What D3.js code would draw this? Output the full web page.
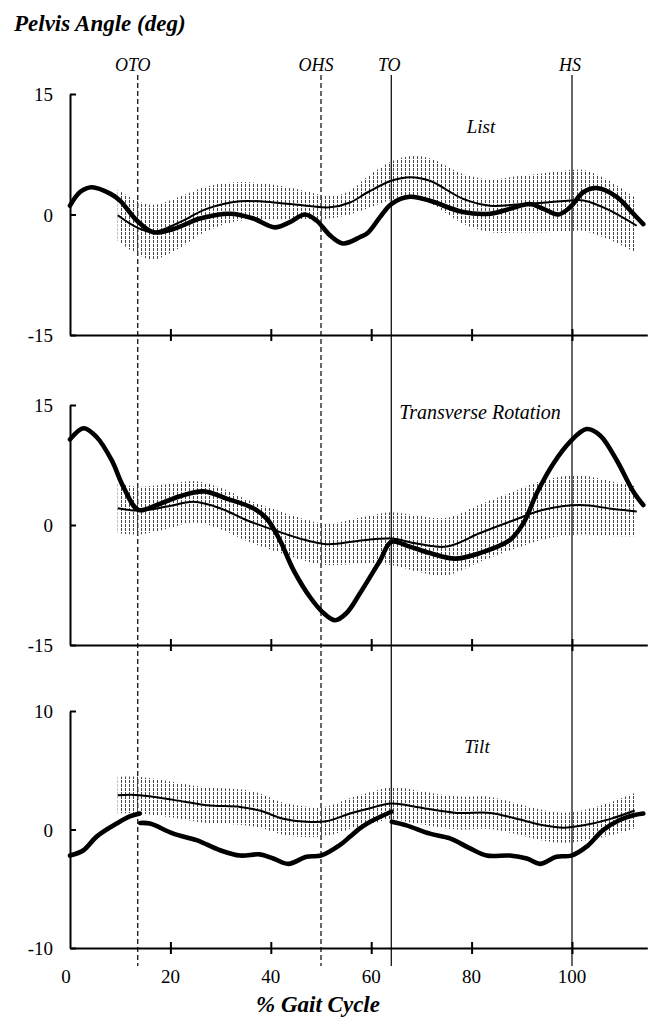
<!DOCTYPE html>
<html>
<head>
<meta charset="utf-8">
<script src="https://cdn.jsdelivr.net/npm/d3@7"></script>
<style>
body { margin: 0; background: #fff; }
text { font-family: "Liberation Serif", "Times New Roman", serif; fill: #000; }
</style>
</head>
<body>
<svg id="chart" width="649" height="1019"></svg>
<script>
// gait events (% gait cycle)
var eventNames = ["OTO", "OHS", "TO", "HS"];
var eventX = [13.5, 50, 64, 100];
var eventDashed = [true, true, false, false];

var xTicks = [0, 20, 40, 60, 80, 100];

// patient curves: [% gait cycle, deg]
var listPatient = [[0, 1.1], [2, 2.8], [4.3, 3.4], [8, 2.6], [10, 1.7], [13.3, -0.75], [16.6, -2.2], [20.6, -1.8],
    [25.9, -0.5], [31.9, 0.1], [36.5, -0.5], [40.8, -1.6], [43.8, -0.95], [46.8, 0], [49.1, -0.75], [51.8, -2.6],
    [54.4, -3.6], [57.8, -2.8], [59.3, -2.3], [61.8, -0.3], [64, 1.3], [67.7, 2.2], [71.7, 1.7], [78.3, 0.3],
    [83.7, 0.1], [87.6, 0.7], [91.6, 1.3], [94.3, 0.7], [97.3, 0], [99.6, 0.9], [102.3, 2.8], [104.9, 3.3],
    [108.9, 2.2], [112.2, 0.1], [114.2, -1.2]];

var rotationPatient = [[0, 10.7], [2.7, 12.1], [5.3, 11], [8.3, 8.1], [10.6, 4.8], [13.6, 1.9], [17.3, 2.5],
    [21.9, 3.6], [26.6, 4.2], [31.2, 3.3], [36.5, 2.1], [39.2, 0.8], [41.8, -1.9], [44.5, -5.6], [47.8, -9],
    [50.5, -11], [52.8, -11.9], [55.1, -11], [57.8, -8.5], [61.8, -4.4], [64, -2.1], [67.7, -2.7], [71.7, -3.5],
    [76.7, -4.2], [81.7, -3.5], [87.6, -1.9], [90.3, 0.2], [93, 4.0], [96.3, 7.7], [99.6, 10.4], [102.9, 12],
    [105.6, 11.2], [108.9, 8.1], [112.2, 4.2], [114.2, 2.5]];

var tiltPatient = [[0, -2.2], [2.7, -1.75], [5.3, -0.6], [9.3, 0.5], [11.9, 1.1], [13.9, 1.35], [13.95, null],
    [14, 0.55], [15.9, 0.5], [20.6, -0.35], [25.2, -0.9], [29.9, -1.75], [33.9, -2.2], [37.8, -2.1], [40.5, -2.45],
    [43.5, -2.9], [47.1, -2.3], [50, -2.2], [53.8, -1.3], [55.8, -0.6], [57.6, 0.05], [59.8, 0.65], [64, 1.5],
    [64.05, null], [64.1, 0.65], [67, 0.35], [71.7, -0.35], [75.7, -0.75], [79.7, -1.6], [83, -2.2], [87.6, -2.2],
    [91, -2.45], [93.6, -2.9], [96.9, -2.3], [99.9, -2.2], [102.9, -1.45], [106.2, -0.05], [109.5, 0.8],
    [112.2, 1.2], [114.2, 1.35]];

// normal data: [% gait cycle, mean, sd]
var listNormal = [[9.5, -0.1, 3.2], [13.3, -1.6, 3.3], [16.6, -2.2, 3.4], [21.9, -0.95, 3.2], [27.2, 0.7, 2.8],
    [33.9, 1.65, 2.4], [40.5, 1.5, 2.2], [47.1, 1.1, 1.8], [51.8, 0.9, 1.4], [55.8, 1.5, 1.5], [59.4, 2.8, 2.0],
    [64, 4.2, 2.4], [67.7, 4.65, 2.6], [71.7, 4.2, 2.8], [78.3, 1.95, 3.1], [83.7, 1.1, 3.3], [89, 1.25, 3.5],
    [95, 1.5, 3.7], [99.6, 1.75, 3.8], [102.3, 1.75, 3.8], [106.9, 0.7, 3.7], [112.9, -1.4, 3.4]];

var rotationNormal = [[9.5, 2.1, 3.1], [13.6, 1.8, 3.0], [19.3, 2.3, 2.8], [24.6, 2.9, 2.6], [29.9, 2.1, 2.6],
    [35.2, 0.6, 2.6], [40.5, -0.6, 2.6], [45.8, -1.7, 2.6], [51.1, -2.4, 2.6], [58.4, -1.9, 2.9], [64, -1.7, 3.3],
    [69, -2.3, 3.5], [75, -2.7, 3.6], [81.7, -1.0, 3.6], [87.6, 0.4, 3.6], [94.3, 1.9, 3.7], [101.6, 2.5, 3.7],
    [108.2, 2.0, 3.4], [112.9, 1.7, 3.1]];

var tiltNormal = [[9.5, 2.9, 1.55], [13.9, 2.9, 1.55], [20.6, 2.5, 1.5], [27.2, 2.05, 1.5], [33.9, 1.9, 1.5],
    [37.8, 1.6, 1.45], [42.5, 0.9, 1.35], [47.1, 0.65, 1.3], [51.1, 0.7, 1.25], [55.8, 1.35, 1.3],
    [59.4, 1.75, 1.35], [64, 2.2, 1.35], [69, 1.9, 1.4], [77, 1.4, 1.4], [83.7, 1.4, 1.35], [89, 0.9, 1.3],
    [94.3, 0.35, 1.3], [98.3, 0.15, 1.27], [102.3, 0.35, 1.3], [107.7, 0.9, 1.4], [112.5, 1.6, 1.5]];

var panels = [
    {name: "List", domain: [-15, 15], top: 94, bottom: 335, patient: listPatient, normal: listNormal,
        labelX: 481, labelY: 133, labelBg: false},
    {name: "Transverse Rotation", domain: [-15, 15], top: 405, bottom: 645, patient: rotationPatient,
        normal: rotationNormal, labelX: 480, labelY: 419, labelBg: true},
    {name: "Tilt", domain: [-10, 10], top: 711, bottom: 948, patient: tiltPatient, normal: tiltNormal,
        labelX: 477, labelY: 753, labelBg: false}
];

var svg = d3.select("#chart");
var x = d3.scaleLinear().domain([0, 115]).range([70, 647.3]);

// hatching used for the normal +/- 1 SD band
var pattern = svg.append("defs").append("pattern")
    .attr("id", "hatch")
    .attr("patternUnits", "userSpaceOnUse")
    .attr("width", 4)
    .attr("height", 4);
pattern.append("rect").attr("x", 1).attr("y", 0).attr("width", 1).attr("height", 3).attr("fill", "#454545");

svg.append("text")
    .attr("x", 14)
    .attr("y", 31)
    .style("font-size", "23px")
    .style("font-weight", "bold")
    .style("font-style", "italic")
    .text("Pelvis Angle (deg)");

// event lines run through all three panels
var ev = svg.append("g");
eventX.forEach(function (e, i) {
    ev.append("line")
        .attr("x1", x(e)).attr("x2", x(e))
        .attr("y1", 75).attr("y2", 966)
        .attr("stroke", "#000")
        .attr("stroke-width", 1.2)
        .attr("stroke-dasharray", eventDashed[i] ? "5,3" : null);
    ev.append("text")
        .attr("x", x(e) - (eventDashed[i] ? 5 : 2))
        .attr("y", 71)
        .attr("text-anchor", "middle")
        .style("font-size", "18px")
        .style("font-style", "italic")
        .text(eventNames[i]);
});

panels.forEach(function (p, pi) {
    var y = d3.scaleLinear().domain(p.domain).range([p.bottom, p.top]);
    var g = svg.append("g");

    var band = d3.area()
        .x(function (d) { return x(d[0]); })
        .y0(function (d) { return y(d[1] - d[2]); })
        .y1(function (d) { return y(d[1] + d[2]); })
        .curve(d3.curveCatmullRom);
    g.append("path")
        .datum(p.normal)
        .attr("d", band)
        .attr("fill", "url(#hatch)");

    var meanLine = d3.line()
        .x(function (d) { return x(d[0]); })
        .y(function (d) { return y(d[1]); })
        .curve(d3.curveCatmullRom);
    g.append("path")
        .datum(p.normal)
        .attr("d", meanLine)
        .attr("fill", "none")
        .attr("stroke", "#000")
        .attr("stroke-width", 2);

    var patLine = d3.line()
        .defined(function (d) { return d[1] !== null; })
        .x(function (d) { return x(d[0]); })
        .y(function (d) { return y(d[1]); })
        .curve(d3.curveCatmullRom);
    g.append("path")
        .datum(p.patient)
        .attr("d", patLine)
        .attr("fill", "none")
        .attr("stroke", "#000")
        .attr("stroke-width", 4.6)
        .attr("stroke-linejoin", "round")
        .attr("stroke-linecap", "round");

    // y axis, ticks pointing inward
    var yAxis = g.append("g")
        .attr("transform", "translate(" + x(0) + ",0)")
        .call(d3.axisLeft(y).tickValues([p.domain[0], 0, p.domain[1]])
            .tickFormat(function (d) { return String(d); })
            .tickSize(-6).tickSizeOuter(0).tickPadding(17));
    yAxis.select(".domain").attr("stroke-width", 2);
    yAxis.selectAll(".tick line").attr("stroke-width", 2);
    yAxis.selectAll(".tick text")
        .style("font-size", "19px")
        .style("font-family", "'Liberation Serif', serif")
        .attr("dy", "0.36em");

    // x axis, ticks crossing the line
    var xAxis = g.append("g")
        .attr("transform", "translate(0," + p.bottom + ")")
        .call(d3.axisBottom(x).tickValues(xTicks.slice(1)).tickSize(6).tickSizeOuter(0));
    xAxis.select(".domain").attr("stroke-width", 2);
    xAxis.selectAll(".tick line").attr("y1", -6).attr("y2", 6).attr("stroke-width", 2);
    xAxis.selectAll(".tick text").remove();

    if (pi === panels.length - 1) {
        g.append("g").selectAll("text")
            .data(xTicks)
            .enter().append("text")
            .attr("x", function (d) { return x(d) - (d === 0 ? 4 : 0); })
            .attr("y", p.bottom + 35)
            .attr("text-anchor", "middle")
            .style("font-size", "19px")
            .text(function (d) { return d; });
    }

    var lab = g.append("text")
        .attr("x", p.labelX)
        .attr("y", p.labelY)
        .attr("text-anchor", "middle")
        .style("font-size", p.labelBg ? "20px" : "19px")
        .style("font-style", "italic")
        .text(p.name);
    if (p.labelBg) {
        var bb = lab.node().getBBox();
        g.insert("rect", function () { return lab.node(); })
            .attr("x", bb.x - 4).attr("y", bb.y - 3)
            .attr("width", bb.width + 8).attr("height", bb.height + 4)
            .attr("fill", "#fff");
    }
});

svg.append("text")
    .attr("x", 318)
    .attr("y", 1012)
    .attr("text-anchor", "middle")
    .style("font-size", "23px")
    .style("font-weight", "bold")
    .style("font-style", "italic")
    .text("% Gait Cycle");
</script>
</body>
</html>
